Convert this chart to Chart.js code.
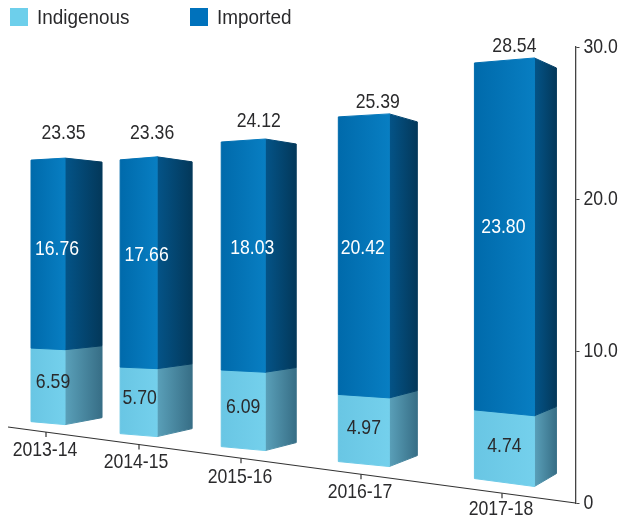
<!DOCTYPE html>
<html>
<head>
<meta charset="utf-8">
<style>html,body{margin:0;padding:0;background:#fff}#wrap{width:621px;height:518px}canvas{display:block}</style>
<script src="https://cdn.jsdelivr.net/npm/chart.js@4/dist/chart.umd.min.js"></script>
</head>
<body>
<div id="wrap"><canvas id="c" width="621" height="518"></canvas></div>
<script>
const categories = ['2013-14', '2014-15', '2015-16', '2016-17', '2017-18'];
const indigenous = [6.59, 5.70, 6.09, 4.97, 4.74];
const imported = [16.76, 17.66, 18.03, 20.42, 23.80];
const totals = [23.35, 23.36, 24.12, 25.39, 28.54];

// Perspective of the 3D drawing, one entry per category
const lift = [78, 66, 52, 36, 16];
const depth = [0.752, 0.789, 0.851, 0.915, 0.989];
const shiftX = [8, -18, -32, -30, -9];
const frontW = [34, 37, 44, 51, 60];
const sideW = [37, 35, 31, 28, 22];
const leftDrop = [[-3, 2], [-3, 3], [-4, 3], [-5, 3], [-8, 5]];
const rightDrop = [[-7, 4], [-8, 5], [-8, 5], [-11, 8], [-13, 10]];
const totalNudge = [[-3, 25], [-4, 24], [0, 18], [0, 12], [-1, 12]];
const indigenousNudge = [5, 1, 0, 0, 0];
const importedNudge = [[9, 5], [8, 8], [9, 8], [-1, 8], [-1, 10]];
const axisTickX = [46, 139, 241, 361, 502];
const axisLabelDrop = [18, 17, 18, 17, 16];
const axisLabelNudge = [-1, -3, -1, -1, -1];

const FONT = "'Liberation Sans', sans-serif";
const TEXT = '#2a2a2c';
const shades = [
  { front: ['#69c6e4', '#74d0ec'], side: ['#5aa0b9', '#376e86'] },
  { front: ['#006aab', '#087ec2'], side: ['#045488', '#03385a'] }
];

function hGrad(ctx, x0, x1, stops) {
  const g = ctx.createLinearGradient(x0, 0, x1, 0);
  g.addColorStop(0, stops[0]); g.addColorStop(1, stops[1]);
  return g;
}
function poly(ctx, pts, fill) {
  ctx.beginPath();
  pts.forEach((p, i) => i ? ctx.lineTo(p[0], p[1]) : ctx.moveTo(p[0], p[1]));
  ctx.closePath();
  ctx.fillStyle = fill;
  ctx.strokeStyle = fill;
  ctx.lineWidth = 1;
  ctx.lineJoin = 'round';
  ctx.fill();
  ctx.stroke();
}
// the reference type is a condensed grotesque: squeeze the installed face
function label(ctx, text, x, y, color, squeeze) {
  ctx.save();
  ctx.translate(x, y + 0.5);
  ctx.scale(squeeze || 0.84, 1);
  ctx.font = '21px ' + FONT;
  ctx.fillStyle = color;
  ctx.fillText(text, 0, 0);
  ctx.restore();
}

const prismPlugin = {
  id: 'prism',
  afterDraw(chart) {
    const ctx = chart.ctx, ys = chart.scales.y;
    ctx.save();
    ctx.textAlign = 'left'; ctx.textBaseline = 'middle';
    ys.ticks.forEach((t, i) => {
      label(ctx, t.label, chart.chartArea.right + 8, ys.getPixelForTick(i), TEXT);
    });
    ctx.restore();
  },
  beforeDatasetsDraw(chart) {
    const ctx = chart.ctx, ys = chart.scales.y, xs = chart.scales.x;
    const zero = ys.getPixelForValue(0);
    const project = (i, v) => zero - lift[i] - depth[i] * (zero - v);
    const tOf = (i, v) => (zero - v) / (zero - ys.getPixelForValue(totals[i]));
    const mix = (pair, t) => pair[0] + (pair[1] - pair[0]) * t;

    // slanted floor axis
    const x0 = 8, y0 = 427, x1 = chart.chartArea.right, y1 = zero;
    const floorY = x => y0 + (y1 - y0) * (x - x0) / (x1 - x0);
    ctx.save();
    ctx.strokeStyle = '#333'; ctx.lineWidth = 1.2;
    ctx.textAlign = 'center'; ctx.textBaseline = 'middle';
    ctx.beginPath(); ctx.moveTo(x0, y0); ctx.lineTo(x1, y1); ctx.stroke();
    categories.forEach((c, i) => {
      const tx = axisTickX[i], ty = floorY(tx);
      ctx.beginPath(); ctx.moveTo(tx, ty); ctx.lineTo(tx, ty + 5); ctx.stroke();
      label(ctx, xs.getLabelForValue(i), tx + axisLabelNudge[i], ty + axisLabelDrop[i], TEXT);
    });
    ctx.restore();

    // bars
    chart.data.datasets.forEach((ds, d) => {
      chart.getDatasetMeta(d).data.forEach((el, i) => {
        const L = el.x - el.width / 2 + shiftX[i];
        const M = L + frontW[i], R = M + sideW[i];
        const tB = tOf(i, el.base), tT = tOf(i, el.y);
        const cB = project(i, el.base), cT = project(i, el.y);
        const lB = cB + mix(leftDrop[i], tB), lT = cT + mix(leftDrop[i], tT);
        const rB = cB + mix(rightDrop[i], tB), rT = cT + mix(rightDrop[i], tT);
        poly(ctx, [[M, cT], [R, rT], [R, rB], [M, cB]], hGrad(ctx, M, R, shades[d].side));
        poly(ctx, [[L, lT], [M, cT], [M, cB], [L, lB]], hGrad(ctx, L, M, shades[d].front));
      });
    });

    // value labels
    ctx.save();
    ctx.textAlign = 'center'; ctx.textBaseline = 'middle';
    categories.forEach((c, i) => {
      const el0 = chart.getDatasetMeta(0).data[i], el1 = chart.getDatasetMeta(1).data[i];
      const barL = el0.x - el0.width / 2 + shiftX[i];
      const fc = barL + frontW[i] / 2;
      label(ctx, indigenous[i].toFixed(2), fc + indigenousNudge[i],
        (project(i, el0.base) + project(i, el0.y)) / 2 - 5, TEXT);
      label(ctx, imported[i].toFixed(2), fc + importedNudge[i][0],
        (project(i, el1.base) + project(i, el1.y)) / 2 - importedNudge[i][1], '#ffffff');
      label(ctx, totals[i].toFixed(2), barL + (frontW[i] + sideW[i]) / 2 + totalNudge[i][0],
        project(i, el1.y) - totalNudge[i][1], TEXT);
    });
    ctx.restore();

    // legend
    ctx.save();
    ctx.textBaseline = 'middle'; ctx.textAlign = 'left';
    [10, 190].forEach((lx, d) => {
      const ds = chart.data.datasets[d];
      ctx.fillStyle = ds.backgroundColor;
      ctx.fillRect(lx, 8, 18, 18);
      label(ctx, ds.label, lx + 27, 18, TEXT, 0.9);
    });
    ctx.restore();
    return false;
  }
};

new Chart(document.getElementById('c'), {
  type: 'bar',
  data: {
    labels: categories,
    datasets: [
      { label: 'Indigenous', data: indigenous, backgroundColor: '#6dcfeb', stack: 's', categoryPercentage: 0.6, barPercentage: 1 },
      { label: 'Imported', data: imported, backgroundColor: '#0072bc', stack: 's', categoryPercentage: 0.6, barPercentage: 1 }
    ]
  },
  plugins: [prismPlugin],
  options: {
    responsive: false,
    animation: false,
    layout: { padding: { top: 47, bottom: 15, left: 0, right: 0 } },
    plugins: { legend: { display: false }, tooltip: { enabled: false } },
    scales: {
      x: { stacked: true, display: false },
      y: {
        stacked: true, position: 'right', min: 0, max: 30,
        afterFit(s) { s.width = 45.5; },
        border: { color: '#444', width: 1.3 },
        grid: { drawOnChartArea: false, drawTicks: true, tickLength: 4, color: '#444' },
        ticks: {
          display: false,
          stepSize: 10,
          callback: v => v === 0 ? '0' : v.toFixed(1)
        }
      }
    }
  }
});
</script>
</body>
</html>
